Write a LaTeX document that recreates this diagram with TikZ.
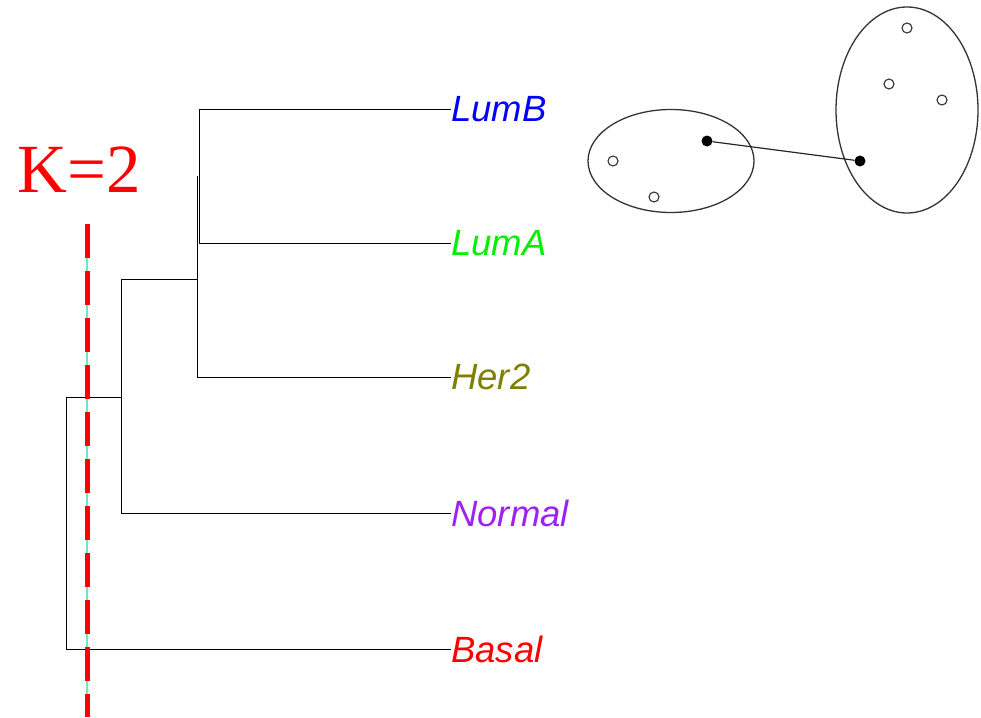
\documentclass[tikz,border=0pt]{standalone}
\usepackage{fontspec}
\usetikzlibrary{shapes.geometric}
\setmainfont{Liberation Serif}
\setsansfont{Liberation Sans}
\begin{document}
\begin{tikzpicture}[x=1pt,y=-1pt,
  branch/.style={draw=black,line width=0.9pt},
  leaflabel/.style={anchor=west,inner sep=0pt,font=\sffamily\itshape\fontsize{36.5}{40}\selectfont},
  blob/.style={draw=black!80,line width=1.3pt},
  opendot/.style={circle,draw=black!80,fill=white,line width=1.1pt,minimum size=10pt,inner sep=0pt},
  filldot/.style={circle,fill=black,minimum size=11pt,inner sep=0pt}]
\useasboundingbox (0,0) rectangle (981,717);
\definecolor{olivec}{RGB}{128,128,0}
\definecolor{purplec}{RGB}{160,32,240}
\definecolor{aquac}{RGB}{110,230,200}
% leaves
\node[leaflabel,text=blue] (lumb) at (451,109) {LumB};
\node[leaflabel,text={rgb,255:red,0;green,240;blue,0}] (luma) at (451,243) {LumA};
\node[leaflabel,text=olivec] (her2) at (451,377) {Her2};
\node[leaflabel,text=purplec] (normal) at (451,513) {Normal};
\node[leaflabel,text=red] (basal) at (451,649) {Basal};
% joints
\coordinate (j1t) at (199,109);
\coordinate (j1b) at (199,243);
\coordinate (j2t) at (197,176);
\coordinate (j2b) at (197,377);
\coordinate (j2m) at (197,279);
\coordinate (j3t) at (121,279);
\coordinate (j3b) at (121,513);
\coordinate (j3m) at (121,397);
\coordinate (j4t) at (66,397);
\coordinate (j4b) at (66,649);
\draw[branch] (lumb.west) -- (j1t) -- (j1b) -- (luma.west);
\draw[branch] (j2t) -- (j2b) -- (her2.west);
\draw[branch] (j2m) -- (j3t) -- (j3b) -- (normal.west);
\draw[branch] (j3m) -- (j4t) -- (j4b) -- (basal.west);
% cut line
\coordinate (cuttop) at (87,224);
\coordinate (cutbot) at (87,717);
\draw[aquac,line width=2pt] (cuttop) -- (cutbot);
\draw[red,line width=5pt,dash pattern=on 34pt off 13pt] (cuttop) -- (cutbot);
\node[text=red,inner sep=0pt,anchor=base,font=\fontsize{69}{80}\selectfont] (klabel) at (79.5,192) {K=2};
% clusters
\node[blob,ellipse,minimum width=166pt,minimum height=103pt,inner sep=0pt] (c1) at (671,161) {};
\node[blob,ellipse,minimum width=142pt,minimum height=206pt,inner sep=0pt] (c2) at (907,110) {};
\node[opendot] (a1) at (613,161) {};
\node[opendot] (a2) at (654,197) {};
\node[opendot] (b1) at (907,28) {};
\node[opendot] (b2) at (889,84) {};
\node[opendot] (b3) at (942,100) {};
\node[filldot] (f1) at (707,141) {};
\node[filldot] (f2) at (860,161) {};
\draw[black!85,line width=1.2pt] (f1) -- (f2);
\end{tikzpicture}
\end{document}
